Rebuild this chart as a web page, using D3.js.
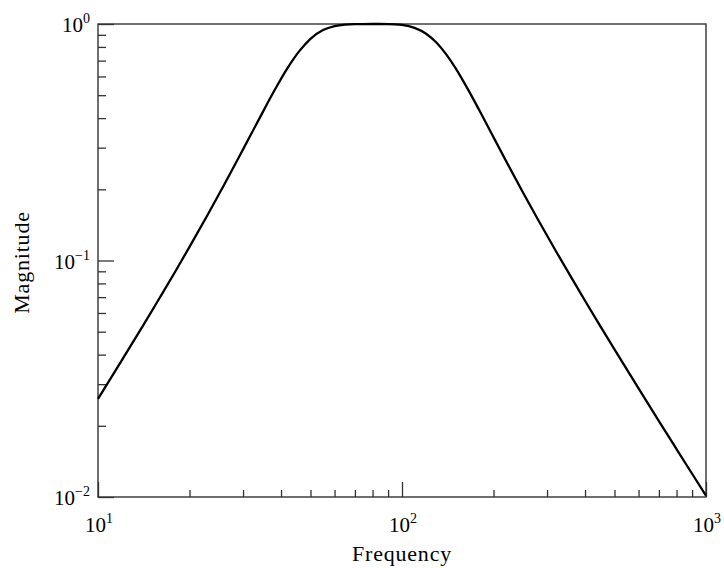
<!DOCTYPE html>
<html><head><meta charset="utf-8">
<script src="https://cdn.jsdelivr.net/npm/d3@7"></script>
<style>body{margin:0;background:#fff}</style>
</head><body><svg id="c" width="724" height="568"></svg>
<script>
const freq = [10,12,14,16,18,20,23,26,30,34,38,42,46,50,55,60,65,70,80,90,100,110,120,130,140,150,165,180,200,225,250,280,320,360,400,450,500,600,700,800,900,1000];
const magnitude = [0.0260,0.0380,0.0525,0.0699,0.0903,0.1142,0.1569,0.209,0.295,0.400,0.522,0.651,0.770,0.866,0.9425,0.980,0.9948,0.9992,1.0,0.9992,0.9908,0.9635,0.910,0.833,0.742,0.651,0.528,0.4295,0.332,0.2495,0.194,0.149,0.1102,0.0850,0.0676,0.0525,0.0421,0.0288,0.02094,0.01594,0.01254,0.01013];
const xMajor = [10,100,1000], xMajorExp = ["1","2","3"];
const yMajor = [0.01,0.1,1], yMajorExp = ["\u22122","\u22121","0"];
const xMinor = [20,30,40,50,60,70,80,90,200,300,400,500,600,700,800,900];
const yMinor = [0.02,0.03,0.04,0.05,0.06,0.07,0.08,0.09,0.2,0.3,0.4,0.5,0.6,0.7,0.8,0.9];
const xTitle = "Frequency", yTitle = "Magnitude";

const W = 724, H = 568;
const m = {l:98, t:24, r:18, b:71};
const svg = d3.select("#c");
const x = d3.scaleLog().domain([10,1000]).range([m.l, W-m.r]);
const y = d3.scaleLog().domain([0.01,1]).range([H-m.b, m.t]);
const serif = "'Liberation Serif', 'Times New Roman', serif";
const axisColor = "#333";

// minor & major ticks (pointing inward)
function drawTicks(g, axis){
  g.call(axis);
  g.select(".domain").remove();
  g.selectAll("text").remove();
  g.selectAll("line").attr("stroke", axisColor).attr("stroke-width", 1.3);
}
svg.append("g").attr("transform",`translate(0,${H-m.b})`)
  .call(g=>drawTicks(g, d3.axisBottom(x).tickValues(xMinor).tickSizeInner(-7).tickSizeOuter(0)));
svg.append("g").attr("transform",`translate(0,${H-m.b})`)
  .call(g=>drawTicks(g, d3.axisBottom(x).tickValues(xMajor).tickSizeInner(-15).tickSizeOuter(0)));
svg.append("g").attr("transform",`translate(${m.l},0)`)
  .call(g=>drawTicks(g, d3.axisLeft(y).tickValues(yMinor).tickSizeInner(-8).tickSizeOuter(0)));
svg.append("g").attr("transform",`translate(${m.l},0)`)
  .call(g=>drawTicks(g, d3.axisLeft(y).tickValues(yMajor).tickSizeInner(-16).tickSizeOuter(0)));

// frame
svg.append("rect").attr("x", m.l).attr("y", m.t)
  .attr("width", W-m.r-m.l).attr("height", H-m.b-m.t)
  .attr("fill","none").attr("stroke", axisColor).attr("stroke-width", 1.4);

// curve
const line = d3.line().x((d,i)=>x(freq[i])).y(d=>y(d)).curve(d3.curveMonotoneX);
svg.append("path").datum(magnitude).attr("d", line)
  .attr("fill","none").attr("stroke","#000").attr("stroke-width",2.3)
  .attr("stroke-linejoin","round");

// tick labels
function powLabel(sel, exp){
  sel.append("tspan").attr("font-size",21).text("10");
  sel.append("tspan").attr("font-size",14).attr("dy",-9).text(exp);
}
xMajor.forEach((v,i)=>{
  const t = svg.append("text").attr("x", x(v)+1).attr("y", 532)
    .attr("text-anchor","middle").attr("font-family", serif).attr("fill","#000");
  powLabel(t, xMajorExp[i]);
});
yMajor.forEach((v,i)=>{
  const t = svg.append("text").attr("x", 90).attr("y", y(v)+8)
    .attr("text-anchor","end").attr("font-family", serif).attr("fill","#000");
  powLabel(t, yMajorExp[i]);
});

// axis titles
svg.append("text").attr("x", (m.l+W-m.r)/2).attr("y", 561)
  .attr("text-anchor","middle").attr("font-family", serif).attr("font-size",22)
  .attr("letter-spacing",0.8).text(xTitle);
svg.append("text").attr("transform",`translate(29,${(m.t+H-m.b)/2+2}) rotate(-90)`)
  .attr("text-anchor","middle").attr("font-family", serif).attr("font-size",22)
  .attr("letter-spacing",0.8).text(yTitle);
</script></body></html>
